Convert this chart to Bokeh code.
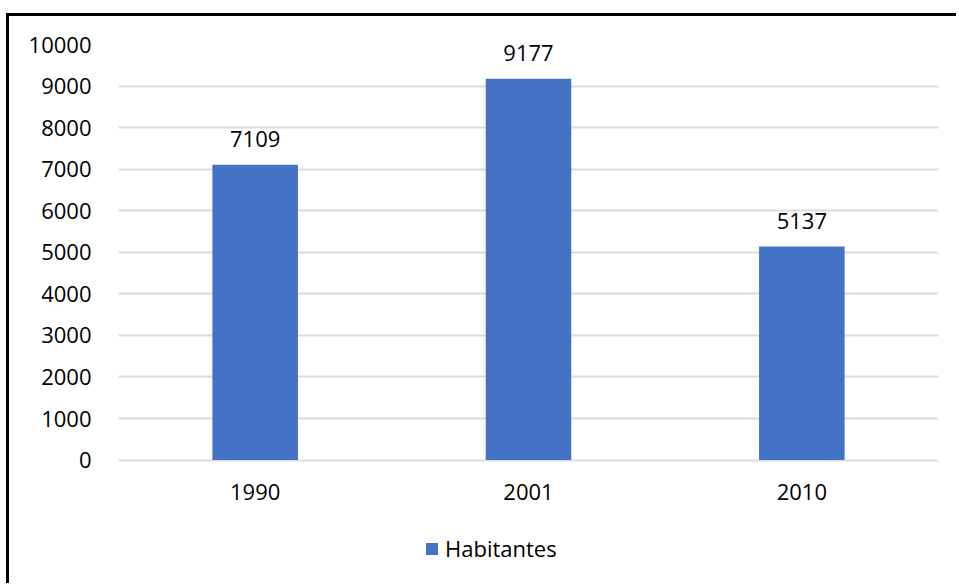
from bokeh.plotting import figure
from bokeh.models import (ColumnDataSource, Range1d, FactorRange, FixedTicker, Legend,
                          LegendItem, CategoricalAxis)
from bokeh.core.properties import value
from bokeh.embed import file_html
from bokeh.resources import INLINE

years = ["1990", "2001", "2010"]
habitantes = [7109, 9177, 5137]
series_name = "Habitantes"
y_ticks = [0, 1000, 2000, 3000, 4000, 5000, 6000, 7000, 8000, 9000, 10000]

FONT = "Open Sans"
BAR = "#4472C4"

src = ColumnDataSource(dict(x=years, y=habitantes, lab=[str(v) for v in habitantes]))

# frame extends below zero so that the legend below the category labels lies inside it
p = figure(x_range=FactorRange(*years), y_range=Range1d(-3041, 10000),
           width=950, height=570, output_backend="svg", toolbar_location=None,
           x_axis_location=None,
           min_border_left=109, min_border_right=21, min_border_top=28, min_border_bottom=0)
p.styles = {"border-top": "3px solid black", "border-left": "3px solid black",
            "margin-top": "13px", "margin-left": "6px"}
p.outline_line_color = None
p.background_fill_color = "white"
p.border_fill_color = "white"

r = p.vbar(x="x", top="y", bottom=0, width=0.313, source=src, fill_color=BAR, line_color=None)
p.text(x="x", y="y", text="lab", source=src, text_align="center", text_baseline="alphabetic",
       y_offset=-26, text_font=value(FONT), text_font_size="22px", text_color="black")

xaxis = CategoricalAxis(fixed_location=0)
p.add_layout(xaxis, "below")

p.xgrid.grid_line_color = None
p.ygrid.grid_line_color = "#dcdcdc"
p.ygrid.grid_line_width = 2

p.yaxis.ticker = FixedTicker(ticks=y_ticks)
for ax in (xaxis, p.yaxis[0]):
    ax.axis_line_color = None
    ax.major_tick_line_color = None
    ax.minor_tick_line_color = None
    ax.major_tick_out = 0
    ax.major_tick_in = 0
    ax.minor_tick_out = 0
    ax.major_label_text_font = FONT
    ax.major_label_text_font_size = "22px"
    ax.major_label_text_color = "black"
p.yaxis.major_label_standoff = 27
xaxis.major_label_standoff = 24

legend = Legend(items=[LegendItem(label=series_name, renderers=[r])], location=(306, 23),
                orientation="horizontal", padding=0, margin=0, border_line_color=None,
                background_fill_alpha=0, glyph_width=15, glyph_height=15, label_standoff=6,
                label_text_font=FONT, label_text_font_size="22px", label_text_color="black")
p.add_layout(legend, "center")

open("out.html", "w").write(file_html(p, INLINE))
